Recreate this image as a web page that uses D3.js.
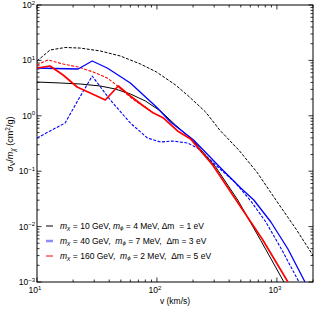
<!DOCTYPE html>
<html><head><meta charset="utf-8">
<script src="https://cdn.jsdelivr.net/npm/d3@7"></script>
<style>body{margin:0;background:#fff}svg{display:block;font-family:"Liberation Sans",Arial,sans-serif}text{white-space:pre}</style>
</head><body><svg id="c" width="316" height="311"></svg>
<script>
// velocity (km/s) and sigma/m (cm^2/g)
const blackDashed = [[10,9.75],[12.85,15.4],[17.15,17.1],[22.9,16.7],[33.7,14.8],[49.5,12.0],[72.8,8.61],[99,6.18],[142.8,3.60],[187,2.18],[254.6,1.17],[333.6,0.554],[481,0.241],[680,0.0968],[981,0.0302],[1443,0.00905],[2041,0.00282]];
const blackSolid = [[10,4.07],[15.6,3.91],[22.9,3.75],[33.7,3.45],[44.9,3.05],[60,2.48],[80.1,1.85],[107,1.22],[142.8,0.682],[198,0.365],[308.8,0.119],[471.6,0.0302],[734.6,0.0056],[1144,0.001]];
const blueSolid = [[10,7.29],[14.15,7.14],[22.03,7.0],[28.86,9.75],[38.5,7.29],[60,3.91],[99,1.44],[129.7,0.773],[202,0.365],[340,0.114],[499.6,0.0498],[642,0.0302],[891,0.0121],[1236,0.00394],[1715,0.001]];
const blueDashed = [[10,0.397],[12.85,0.532],[17.15,0.741],[22.03,1.93],[28.86,5.22],[40.8,1.93],[60,0.741],[83.3,0.397],[107,0.336],[134.8,0.351],[180,0.323],[218,0.262],[308.8,0.129],[445,0.0638],[606,0.029],[809,0.0121],[1101,0.00379],[1528,0.001]];
const redSolid = [[10,7.29],[12.85,7.92],[16.5,5.45],[21.6,3.31],[27.8,2.58],[37.1,1.93],[47.6,3.45],[60,2.28],[77.1,1.50],[93.5,1.12],[113.4,0.912],[148.5,0.532],[190.7,0.381],[291.4,0.129],[462.8,0.029],[763.5,0.00573],[1236,0.001]];
const redDashed = [[10,8.26],[12.36,10.2],[16.5,8.61],[22.03,7.60],[29.4,6.18],[38.5,4.81],[44.9,3.75],[54.5,2.58],[66.1,1.85],[80.1,1.44],[93.5,1.12]];
const legendLabels = [
  ["10 GeV, ","4 MeV, \u0394m  = 1 eV"],
  ["40 GeV,  ","7 MeV,  \u0394m = 3 eV"],
  ["160 GeV,  ","2 MeV,  \u0394m = 5 eV"]
];
const xMajor = [10,100,1000];
const yMajor = [1e-3,1e-2,1e-1,1,10,100];
const xExp = ["1","2","3"];
const yExp = ["\u22123","\u22122","\u22121","0","1","2"];

const svg = d3.select("#c");
const L=37,R=313,T=5,B=282;
const x = d3.scaleLog().domain([10,2000]).range([L,R]);
const y = d3.scaleLog().domain([1e-3,1e2]).range([B,T]);

// frame
svg.append("rect").attr("x",L).attr("y",T).attr("width",R-L).attr("height",B-T).attr("fill","none").attr("stroke","#000").attr("stroke-width",1);

// ticks
const xMinor=[], yMinor=[];
for (let d=10; d<2000; d*=10) for (let k=2;k<=9;k++){ if(d*k<=2000) xMinor.push(d*k); }
for (let d=1e-3; d<1e2; d*=10) for (let k=2;k<=9;k++) yMinor.push(d*k);
const tg = svg.append("g").attr("stroke","#000").attr("stroke-width",0.8);
function xt(v,len){ const px=x(v);
  tg.append("line").attr("x1",px).attr("x2",px).attr("y1",B).attr("y2",B-len);
  tg.append("line").attr("x1",px).attr("x2",px).attr("y1",T).attr("y2",T+len);}
function yt(v,len){ const py=y(v);
  tg.append("line").attr("y1",py).attr("y2",py).attr("x1",L).attr("x2",L+len);
  tg.append("line").attr("y1",py).attr("y2",py).attr("x1",R).attr("x2",R-len);}
xMajor.forEach(v=>xt(v,4.5)); xMinor.forEach(v=>xt(v,2.5));
yMajor.forEach(v=>yt(v,4.5)); yMinor.forEach(v=>yt(v,2.5));

// tick labels
xMajor.forEach((v,i)=>{
  const t=svg.append("text").attr("x",x(v)-2).attr("y",B+11).attr("text-anchor","middle").attr("font-size",8.5);
  t.append("tspan").text("10");
  t.append("tspan").attr("dy",-3.5).attr("font-size",6).text(xExp[i]);
});
yMajor.forEach((v,i)=>{
  const t=svg.append("text").attr("x",L-2).attr("y",y(v)+3).attr("text-anchor","end").attr("font-size",8.5);
  t.append("tspan").text("10");
  t.append("tspan").attr("dy",-3.5).attr("font-size",6).text(yExp[i]);
});

// axis titles
svg.append("text").attr("x",175).attr("y",304).attr("text-anchor","middle").attr("font-size",8.5).text("v (km/s)");
const yt2 = svg.append("text").attr("transform","translate(13,144) rotate(-90)").attr("text-anchor","middle").attr("font-size",9);
yt2.append("tspan").attr("font-style","italic").text("\u03c3");
yt2.append("tspan").attr("font-size",6.5).attr("dy",2).text("V");
yt2.append("tspan").attr("dy",-2).text("/");
yt2.append("tspan").attr("font-style","italic").text("m");
yt2.append("tspan").attr("font-size",6.5).attr("dy",2).attr("font-style","italic").text("\u03c7");
yt2.append("tspan").attr("dy",-2).text(" (cm");
yt2.append("tspan").attr("font-size",6.5).attr("dy",-3).text("2");
yt2.append("tspan").attr("dy",3).text("/g)");

// curves
const line = d3.line().x(d=>x(d[0])).y(d=>y(d[1])).curve(d3.curveLinear);
const cg = svg.append("g").attr("fill","none").attr("stroke-linejoin","round");
svg.append("clipPath").attr("id","clip").append("rect").attr("x",L).attr("y",T).attr("width",R-L).attr("height",B-T);
cg.attr("clip-path","url(#clip)");
function draw(data,color,w,dash){ const p=cg.append("path").datum(data).attr("d",line).attr("stroke",color).attr("stroke-width",w); if(dash) p.attr("stroke-dasharray",dash); }
draw(blackDashed,"#000",1,"3,1.5");
draw(blueDashed,"#0000ff",1.1,"3,1.5");
draw(redDashed,"#ff0000",1.1,"3,1.5");
draw(blackSolid,"#000",1,null);
draw(blueSolid,"#0000ff",1.3,null);
draw(redSolid,"#ff0000",1.7,null);

// legend
const legColors=["#000","#8c8cff","#ff0000"], legW=[1,2.5,1];
const legY=[226,241,256];
legendLabels.forEach((lab,i)=>{
  svg.append("line").attr("x1",46).attr("x2",53).attr("y1",legY[i]).attr("y2",legY[i]).attr("stroke",legColors[i]).attr("stroke-width",legW[i]);
  const t=svg.append("text").attr("x",60).attr("y",legY[i]+2.5).attr("font-size",8.5);
  t.append("tspan").attr("font-style","italic").text("m");
  t.append("tspan").attr("font-style","italic").attr("font-size",6.2).attr("dy",1.5).text("\u03c7");
  t.append("tspan").attr("dy",-1.5).text(" = "+lab[0]);
  t.append("tspan").attr("font-style","italic").text("m");
  t.append("tspan").attr("font-style","italic").attr("font-size",6.2).attr("dy",1.5).text("\u03d5");
  t.append("tspan").attr("dy",-1.5).text(" = "+lab[1]);
});
</script></body></html>
